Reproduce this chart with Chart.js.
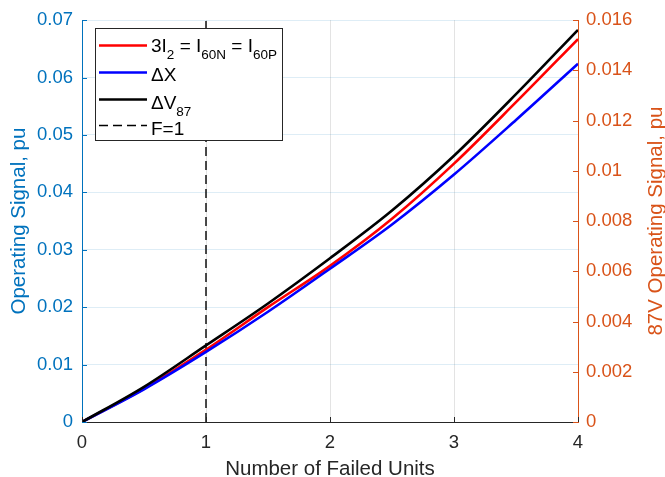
<!DOCTYPE html>
<html>
<head>
<meta charset="utf-8">
<script src="https://cdn.jsdelivr.net/npm/chart.js@4"></script>
<style>
  html, body { margin: 0; padding: 0; background: #ffffff; }
  #wrap { position: relative; width: 665px; height: 477px; }
</style>
</head>
<body>
<div id="wrap"><canvas id="c" width="665" height="477"></canvas></div>
<script>
// ---- data ----
const failedUnits = [0, 0.5, 1, 1.5, 2, 2.5, 3, 3.5, 4];
const negSeqCurrent = [0, 0.0058, 0.0126, 0.0200, 0.0272, 0.0354, 0.0450, 0.0557, 0.0667]; // 3I2 = I60N = I60P (left)
const deltaX        = [0, 0.0057, 0.0122, 0.0192, 0.0267, 0.0344, 0.0431, 0.0526, 0.0624]; // ΔX (left)
const deltaV87      = [0, 0.00140, 0.00305, 0.00472, 0.00652, 0.00842, 0.01060, 0.01305, 0.01561]; // ΔV87 (right)
const failLine = [1, 1];
const failLineY = [0, 0.07];

const xTicks = [0, 1, 2, 3, 4];
const leftTicks = [0, 0.01, 0.02, 0.03, 0.04, 0.05, 0.06, 0.07];
const rightTicks = [0, 0.002, 0.004, 0.006, 0.008, 0.01, 0.012, 0.014, 0.016];

const FONT = '"Liberation Sans", Arial, Helvetica, sans-serif';
const BLUE_AX = '#0072BD';
const ORANGE_AX = '#D95319';
const DARK = '#262626';

const toXY = (xs, ys) => xs.map((x, i) => ({ x: x, y: ys[i] }));
const fmt = v => String(parseFloat(Number(v).toFixed(4)));

const extras = {
  id: 'extras',
  afterDatasetsDraw(chart) {
    const ctx = chart.ctx;
    const xs = chart.scales.x, yl = chart.scales.y, yr = chart.scales.y1;
    const a = chart.chartArea;
    const tl = 5;
    ctx.save();
    ctx.lineWidth = 1;
    // inward ticks
    ctx.strokeStyle = BLUE_AX;
    leftTicks.forEach(v => {
      const y = Math.round(yl.getPixelForValue(v)) + 0.5;
      ctx.beginPath(); ctx.moveTo(a.left, y); ctx.lineTo(a.left + tl, y); ctx.stroke();
    });
    ctx.strokeStyle = ORANGE_AX;
    rightTicks.forEach(v => {
      const y = Math.round(yr.getPixelForValue(v)) + 0.5;
      ctx.beginPath(); ctx.moveTo(a.right, y); ctx.lineTo(a.right - tl, y); ctx.stroke();
    });
    ctx.strokeStyle = DARK;
    xTicks.forEach(v => {
      const x = Math.round(xs.getPixelForValue(v)) + 0.5;
      ctx.beginPath(); ctx.moveTo(x, a.bottom); ctx.lineTo(x, a.bottom - tl); ctx.stroke();
    });
    ctx.restore();
  },
  afterDraw(chart) {
    const ctx = chart.ctx;
    const a = chart.chartArea;
    ctx.save();
    // axis titles
    ctx.font = '20.5px ' + FONT;
    ctx.textAlign = 'center';
    ctx.textBaseline = 'middle';
    ctx.fillStyle = BLUE_AX;
    ctx.save();
    ctx.translate(19, (a.top + a.bottom) / 2);
    ctx.rotate(-Math.PI / 2);
    ctx.fillText('Operating Signal, pu', 0, 0);
    ctx.restore();
    ctx.fillStyle = ORANGE_AX;
    ctx.save();
    ctx.translate(656, (a.top + a.bottom) / 2);
    ctx.rotate(-Math.PI / 2);
    ctx.fillText('87V Operating Signal, pu', 0, 0);
    ctx.restore();
    ctx.fillStyle = DARK;
    ctx.textBaseline = 'alphabetic';
    ctx.fillText('Number of Failed Units', (a.left + a.right) / 2, 475);

    // legend
    const bx = 95.5, by = 28.5, bw = 187, bh = 112;
    ctx.fillStyle = '#ffffff';
    ctx.fillRect(bx, by, bw, bh);
    ctx.strokeStyle = DARK;
    ctx.lineWidth = 1;
    ctx.strokeRect(bx, by, bw, bh);

    const ds = chart.data.datasets;
    const rows = [
      { ds: ds[0], y: 45.5, base: 51.5, parts: [['3I', 0], ['2', 1], [' = I', 0], ['60N', 1], [' = I', 0], ['60P', 1]] },
      { ds: ds[1], y: 72.5, base: 81, parts: [['\u0394X', 0]] },
      { ds: ds[2], y: 99.5, base: 108.5, parts: [['\u0394V', 0], ['87', 1]] },
      { ds: ds[3], y: 125.5, base: 134.5, parts: [['F=1', 0]] }
    ];
    rows.forEach(r => {
      ctx.save();
      ctx.strokeStyle = r.ds.borderColor;
      ctx.lineWidth = r.ds.borderWidth;
      ctx.setLineDash(r.ds.borderDash || []);
      ctx.beginPath(); ctx.moveTo(99, r.y); ctx.lineTo(147, r.y); ctx.stroke();
      ctx.restore();
      let x = 151;
      ctx.fillStyle = '#000000';
      ctx.textAlign = 'left';
      ctx.textBaseline = 'alphabetic';
      r.parts.forEach(p => {
        ctx.font = (p[1] ? '13.5px ' : '19px ') + FONT;
        ctx.fillText(p[0], x, r.base + (p[1] ? 7 : 0));
        x += ctx.measureText(p[0]).width;
      });
    });
    ctx.restore();
  }
};

new Chart(document.getElementById('c'), {
  type: 'line',
  data: {
    datasets: [
      { label: '3I2 = I60N = I60P', data: toXY(failedUnits, negSeqCurrent), yAxisID: 'y',
        borderColor: '#FF0000', borderWidth: 2.6, pointRadius: 0, cubicInterpolationMode: 'monotone', order: 2 },
      { label: '\u0394X', data: toXY(failedUnits, deltaX), yAxisID: 'y',
        borderColor: '#0000FF', borderWidth: 2.6, pointRadius: 0, cubicInterpolationMode: 'monotone', order: 1 },
      { label: '\u0394V87', data: toXY(failedUnits, deltaV87), yAxisID: 'y1',
        borderColor: '#000000', borderWidth: 2.6, pointRadius: 0, cubicInterpolationMode: 'monotone', order: 0 },
      { label: 'F=1', data: toXY(failLine, failLineY), yAxisID: 'y',
        borderColor: '#000000', borderWidth: 1.4, borderDash: [9, 5], pointRadius: 0, tension: 0, order: 3 }
    ]
  },
  options: {
    responsive: false,
    animation: false,
    layout: { padding: { top: 16, left: 0, right: 0, bottom: 0 } },
    plugins: { legend: { display: false }, tooltip: { enabled: false } },
    scales: {
      x: {
        type: 'linear', min: 0, max: 4,
        afterBuildTicks: s => { s.ticks = xTicks.map(v => ({ value: v })); },
        ticks: { padding: 10, color: DARK, font: { family: FONT, size: 18.5 }, callback: v => fmt(v), maxRotation: 0 },
        grid: { color: 'rgba(38,38,38,0.13)', drawTicks: false },
        border: { color: DARK, width: 1 },
        afterFit: s => { s.height = 55; }
      },
      y: {
        position: 'left', min: 0, max: 0.07,
        afterBuildTicks: s => { s.ticks = leftTicks.map(v => ({ value: v })); },
        ticks: { padding: 9, color: BLUE_AX, font: { family: FONT, size: 18.5 }, callback: v => fmt(v) },
        grid: { color: 'rgba(0,114,189,0.13)', drawTicks: false },
        border: { color: BLUE_AX, width: 1 },
        afterFit: s => { s.width = 82; }
      },
      y1: {
        position: 'right', min: 0, max: 0.016,
        afterBuildTicks: s => { s.ticks = rightTicks.map(v => ({ value: v })); },
        ticks: { padding: 8, color: ORANGE_AX, font: { family: FONT, size: 18.5 }, callback: v => fmt(v) },
        grid: { display: false, drawTicks: false },
        border: { color: ORANGE_AX, width: 1 },
        afterFit: s => { s.width = 87; }
      }
    }
  },
  plugins: [extras]
});
</script>
</body>
</html>
